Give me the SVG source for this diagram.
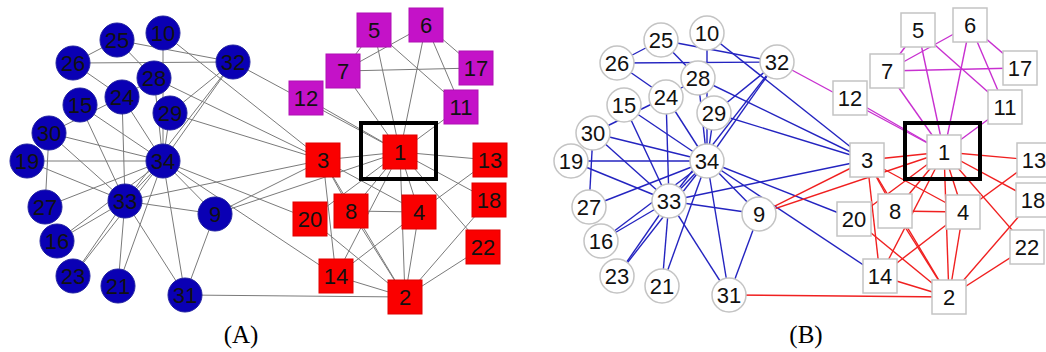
<svg xmlns="http://www.w3.org/2000/svg" width="1046" height="352" viewBox="0 0 1046 352">
<style>
line{fill:none}
.ea{stroke:#7a7a7a;stroke-width:1}
.em{stroke:#c830d0;stroke-width:1.4}
.er{stroke:#f02020;stroke-width:1.4}
.eb{stroke:#2424c0;stroke-width:1.4}
.ca{fill:#0a00b4;stroke:#2020a0;stroke-width:1}
.sr{fill:#fa0000;stroke:#e00000;stroke-width:1}
.sm{fill:#c412c8;stroke:#b010b4;stroke-width:1}
.cb,.sb{fill:#ffffff;stroke:#c4c4c4;stroke-width:1.5}
text.t{font-family:"Liberation Sans",Arial,sans-serif;font-size:22px;text-anchor:middle;fill:#111}
.box{fill:none;stroke:#000;stroke-width:4}
.lab{font-family:"Liberation Serif","Times New Roman",serif;font-size:25px;text-anchor:middle;fill:#000}
</style>
<defs>
<g id="edges-mag">
<line x1="400" y1="152" x2="374" y2="30"/>
<line x1="400" y1="152" x2="426" y2="25"/>
<line x1="400" y1="152" x2="343" y2="71"/>
<line x1="400" y1="152" x2="461" y2="107"/>
<line x1="400" y1="152" x2="306" y2="98"/>
<line x1="400" y1="152" x2="233" y2="62"/>
<line x1="374" y1="30" x2="343" y2="71"/>
<line x1="374" y1="30" x2="461" y2="107"/>
<line x1="426" y1="25" x2="343" y2="71"/>
<line x1="426" y1="25" x2="461" y2="107"/>
<line x1="426" y1="25" x2="476" y2="68"/>
<line x1="343" y1="71" x2="476" y2="68"/>
</g>
<g id="edges-red">
<line x1="400" y1="152" x2="405" y2="297"/>
<line x1="400" y1="152" x2="323" y2="160"/>
<line x1="400" y1="152" x2="419" y2="212"/>
<line x1="400" y1="152" x2="351" y2="211"/>
<line x1="400" y1="152" x2="215" y2="214"/>
<line x1="400" y1="152" x2="490" y2="160"/>
<line x1="400" y1="152" x2="336" y2="276"/>
<line x1="400" y1="152" x2="489" y2="200"/>
<line x1="400" y1="152" x2="310" y2="219"/>
<line x1="400" y1="152" x2="483" y2="247"/>
<line x1="405" y1="297" x2="323" y2="160"/>
<line x1="405" y1="297" x2="419" y2="212"/>
<line x1="405" y1="297" x2="351" y2="211"/>
<line x1="405" y1="297" x2="336" y2="276"/>
<line x1="405" y1="297" x2="489" y2="200"/>
<line x1="405" y1="297" x2="310" y2="219"/>
<line x1="405" y1="297" x2="483" y2="247"/>
<line x1="405" y1="297" x2="185" y2="295"/>
<line x1="323" y1="160" x2="419" y2="212"/>
<line x1="323" y1="160" x2="351" y2="211"/>
<line x1="323" y1="160" x2="215" y2="214"/>
<line x1="323" y1="160" x2="336" y2="276"/>
<line x1="419" y1="212" x2="351" y2="211"/>
<line x1="419" y1="212" x2="490" y2="160"/>
<line x1="419" y1="212" x2="336" y2="276"/>
</g>
<g id="edges-blue">
<line x1="323" y1="160" x2="163" y2="33"/>
<line x1="323" y1="160" x2="154" y2="78"/>
<line x1="323" y1="160" x2="170" y2="113"/>
<line x1="323" y1="160" x2="125" y2="201"/>
<line x1="215" y1="214" x2="185" y2="295"/>
<line x1="215" y1="214" x2="125" y2="201"/>
<line x1="215" y1="214" x2="163" y2="161"/>
<line x1="163" y1="33" x2="163" y2="161"/>
<line x1="336" y1="276" x2="163" y2="161"/>
<line x1="80" y1="105" x2="125" y2="201"/>
<line x1="80" y1="105" x2="163" y2="161"/>
<line x1="57" y1="241" x2="125" y2="201"/>
<line x1="57" y1="241" x2="163" y2="161"/>
<line x1="27" y1="161" x2="125" y2="201"/>
<line x1="27" y1="161" x2="163" y2="161"/>
<line x1="310" y1="219" x2="163" y2="161"/>
<line x1="118" y1="286" x2="125" y2="201"/>
<line x1="118" y1="286" x2="163" y2="161"/>
<line x1="73" y1="276" x2="125" y2="201"/>
<line x1="73" y1="276" x2="163" y2="161"/>
<line x1="122" y1="97" x2="73" y2="63"/>
<line x1="122" y1="97" x2="154" y2="78"/>
<line x1="122" y1="97" x2="49" y2="133"/>
<line x1="122" y1="97" x2="125" y2="201"/>
<line x1="122" y1="97" x2="163" y2="161"/>
<line x1="117" y1="40" x2="73" y2="63"/>
<line x1="117" y1="40" x2="154" y2="78"/>
<line x1="117" y1="40" x2="233" y2="62"/>
<line x1="73" y1="63" x2="233" y2="62"/>
<line x1="45" y1="207" x2="49" y2="133"/>
<line x1="45" y1="207" x2="163" y2="161"/>
<line x1="154" y1="78" x2="163" y2="161"/>
<line x1="170" y1="113" x2="233" y2="62"/>
<line x1="170" y1="113" x2="163" y2="161"/>
<line x1="49" y1="133" x2="125" y2="201"/>
<line x1="49" y1="133" x2="163" y2="161"/>
<line x1="185" y1="295" x2="125" y2="201"/>
<line x1="185" y1="295" x2="163" y2="161"/>
<line x1="233" y1="62" x2="125" y2="201"/>
<line x1="233" y1="62" x2="163" y2="161"/>
<line x1="125" y1="201" x2="163" y2="161"/>
</g>
</defs>
<rect width="1046" height="352" fill="#fff"/>

<g id="panel-a">
<g id="connectors-a">
<use href="#edges-mag" class="ea"/>
<use href="#edges-red" class="ea"/>
<use href="#edges-blue" class="ea"/>
</g>
<g id="a-n1"><rect class="sr" x="383" y="135" width="34" height="34"/><text class="t" x="400" y="160">1</text></g>
<g id="a-n2"><rect class="sr" x="388" y="280" width="34" height="34"/><text class="t" x="405" y="305">2</text></g>
<g id="a-n3"><rect class="sr" x="306" y="143" width="34" height="34"/><text class="t" x="323" y="168">3</text></g>
<g id="a-n4"><rect class="sr" x="402" y="195" width="34" height="34"/><text class="t" x="419" y="220">4</text></g>
<g id="a-n5"><rect class="sm" x="357" y="13" width="34" height="34"/><text class="t" x="374" y="38">5</text></g>
<g id="a-n6"><rect class="sm" x="409" y="8" width="34" height="34"/><text class="t" x="426" y="33">6</text></g>
<g id="a-n7"><rect class="sm" x="326" y="54" width="34" height="34"/><text class="t" x="343" y="79">7</text></g>
<g id="a-n8"><rect class="sr" x="334" y="194" width="34" height="34"/><text class="t" x="351" y="219">8</text></g>
<g id="a-n9"><circle class="ca" cx="215" cy="214" r="17"/><text class="t" x="215" y="222">9</text></g>
<g id="a-n10"><circle class="ca" cx="163" cy="33" r="17"/><text class="t" x="163" y="41">10</text></g>
<g id="a-n11"><rect class="sm" x="444" y="90" width="34" height="34"/><text class="t" x="461" y="115">11</text></g>
<g id="a-n12"><rect class="sm" x="289" y="81" width="34" height="34"/><text class="t" x="306" y="106">12</text></g>
<g id="a-n13"><rect class="sr" x="473" y="143" width="34" height="34"/><text class="t" x="490" y="168">13</text></g>
<g id="a-n14"><rect class="sr" x="319" y="259" width="34" height="34"/><text class="t" x="336" y="284">14</text></g>
<g id="a-n15"><circle class="ca" cx="80" cy="105" r="17"/><text class="t" x="80" y="113">15</text></g>
<g id="a-n16"><circle class="ca" cx="57" cy="241" r="17"/><text class="t" x="57" y="249">16</text></g>
<g id="a-n17"><rect class="sm" x="459" y="51" width="34" height="34"/><text class="t" x="476" y="76">17</text></g>
<g id="a-n18"><rect class="sr" x="472" y="183" width="34" height="34"/><text class="t" x="489" y="208">18</text></g>
<g id="a-n19"><circle class="ca" cx="27" cy="161" r="17"/><text class="t" x="27" y="169">19</text></g>
<g id="a-n20"><rect class="sr" x="293" y="202" width="34" height="34"/><text class="t" x="310" y="227">20</text></g>
<g id="a-n21"><circle class="ca" cx="118" cy="286" r="17"/><text class="t" x="118" y="294">21</text></g>
<g id="a-n22"><rect class="sr" x="466" y="230" width="34" height="34"/><text class="t" x="483" y="255">22</text></g>
<g id="a-n23"><circle class="ca" cx="73" cy="276" r="17"/><text class="t" x="73" y="284">23</text></g>
<g id="a-n24"><circle class="ca" cx="122" cy="97" r="17"/><text class="t" x="122" y="105">24</text></g>
<g id="a-n25"><circle class="ca" cx="117" cy="40" r="17"/><text class="t" x="117" y="48">25</text></g>
<g id="a-n26"><circle class="ca" cx="73" cy="63" r="17"/><text class="t" x="73" y="71">26</text></g>
<g id="a-n27"><circle class="ca" cx="45" cy="207" r="17"/><text class="t" x="45" y="215">27</text></g>
<g id="a-n28"><circle class="ca" cx="154" cy="78" r="17"/><text class="t" x="154" y="86">28</text></g>
<g id="a-n29"><circle class="ca" cx="170" cy="113" r="17"/><text class="t" x="170" y="121">29</text></g>
<g id="a-n30"><circle class="ca" cx="49" cy="133" r="17"/><text class="t" x="49" y="141">30</text></g>
<g id="a-n31"><circle class="ca" cx="185" cy="295" r="17"/><text class="t" x="185" y="303">31</text></g>
<g id="a-n32"><circle class="ca" cx="233" cy="62" r="17"/><text class="t" x="233" y="70">32</text></g>
<g id="a-n33"><circle class="ca" cx="125" cy="201" r="17"/><text class="t" x="125" y="209">33</text></g>
<g id="a-n34"><circle class="ca" cx="163" cy="161" r="17"/><text class="t" x="163" y="169">34</text></g>
<rect class="box" x="361" y="123" width="75" height="56"/>
<text class="lab" x="241" y="343">(A)</text>
</g>

<g id="panel-b" transform="translate(544,0)">
<g id="connectors-b">
<use href="#edges-blue" class="eb"/>
<use href="#edges-red" class="er"/>
<use href="#edges-mag" class="em"/>
</g>
<g id="b-n1"><rect class="sb" x="383" y="135" width="34" height="34"/><text class="t" x="400" y="160">1</text></g>
<g id="b-n2"><rect class="sb" x="388" y="280" width="34" height="34"/><text class="t" x="405" y="305">2</text></g>
<g id="b-n3"><rect class="sb" x="306" y="143" width="34" height="34"/><text class="t" x="323" y="168">3</text></g>
<g id="b-n4"><rect class="sb" x="402" y="195" width="34" height="34"/><text class="t" x="419" y="220">4</text></g>
<g id="b-n5"><rect class="sb" x="357" y="13" width="34" height="34"/><text class="t" x="374" y="38">5</text></g>
<g id="b-n6"><rect class="sb" x="409" y="8" width="34" height="34"/><text class="t" x="426" y="33">6</text></g>
<g id="b-n7"><rect class="sb" x="326" y="54" width="34" height="34"/><text class="t" x="343" y="79">7</text></g>
<g id="b-n8"><rect class="sb" x="334" y="194" width="34" height="34"/><text class="t" x="351" y="219">8</text></g>
<g id="b-n9"><circle class="cb" cx="215" cy="214" r="17"/><text class="t" x="215" y="222">9</text></g>
<g id="b-n10"><circle class="cb" cx="163" cy="33" r="17"/><text class="t" x="163" y="41">10</text></g>
<g id="b-n11"><rect class="sb" x="444" y="90" width="34" height="34"/><text class="t" x="461" y="115">11</text></g>
<g id="b-n12"><rect class="sb" x="289" y="81" width="34" height="34"/><text class="t" x="306" y="106">12</text></g>
<g id="b-n13"><rect class="sb" x="473" y="143" width="34" height="34"/><text class="t" x="490" y="168">13</text></g>
<g id="b-n14"><rect class="sb" x="319" y="259" width="34" height="34"/><text class="t" x="336" y="284">14</text></g>
<g id="b-n15"><circle class="cb" cx="80" cy="105" r="17"/><text class="t" x="80" y="113">15</text></g>
<g id="b-n16"><circle class="cb" cx="57" cy="241" r="17"/><text class="t" x="57" y="249">16</text></g>
<g id="b-n17"><rect class="sb" x="459" y="51" width="34" height="34"/><text class="t" x="476" y="76">17</text></g>
<g id="b-n18"><rect class="sb" x="472" y="183" width="34" height="34"/><text class="t" x="489" y="208">18</text></g>
<g id="b-n19"><circle class="cb" cx="27" cy="161" r="17"/><text class="t" x="27" y="169">19</text></g>
<g id="b-n20"><rect class="sb" x="293" y="202" width="34" height="34"/><text class="t" x="310" y="227">20</text></g>
<g id="b-n21"><circle class="cb" cx="118" cy="286" r="17"/><text class="t" x="118" y="294">21</text></g>
<g id="b-n22"><rect class="sb" x="466" y="230" width="34" height="34"/><text class="t" x="483" y="255">22</text></g>
<g id="b-n23"><circle class="cb" cx="73" cy="276" r="17"/><text class="t" x="73" y="284">23</text></g>
<g id="b-n24"><circle class="cb" cx="122" cy="97" r="17"/><text class="t" x="122" y="105">24</text></g>
<g id="b-n25"><circle class="cb" cx="117" cy="40" r="17"/><text class="t" x="117" y="48">25</text></g>
<g id="b-n26"><circle class="cb" cx="73" cy="63" r="17"/><text class="t" x="73" y="71">26</text></g>
<g id="b-n27"><circle class="cb" cx="45" cy="207" r="17"/><text class="t" x="45" y="215">27</text></g>
<g id="b-n28"><circle class="cb" cx="154" cy="78" r="17"/><text class="t" x="154" y="86">28</text></g>
<g id="b-n29"><circle class="cb" cx="170" cy="113" r="17"/><text class="t" x="170" y="121">29</text></g>
<g id="b-n30"><circle class="cb" cx="49" cy="133" r="17"/><text class="t" x="49" y="141">30</text></g>
<g id="b-n31"><circle class="cb" cx="185" cy="295" r="17"/><text class="t" x="185" y="303">31</text></g>
<g id="b-n32"><circle class="cb" cx="233" cy="62" r="17"/><text class="t" x="233" y="70">32</text></g>
<g id="b-n33"><circle class="cb" cx="125" cy="201" r="17"/><text class="t" x="125" y="209">33</text></g>
<g id="b-n34"><circle class="cb" cx="163" cy="161" r="17"/><text class="t" x="163" y="169">34</text></g>
<rect class="box" x="361" y="123" width="75" height="56"/>
<text class="lab" x="262" y="343">(B)</text>
</g>
</svg>
